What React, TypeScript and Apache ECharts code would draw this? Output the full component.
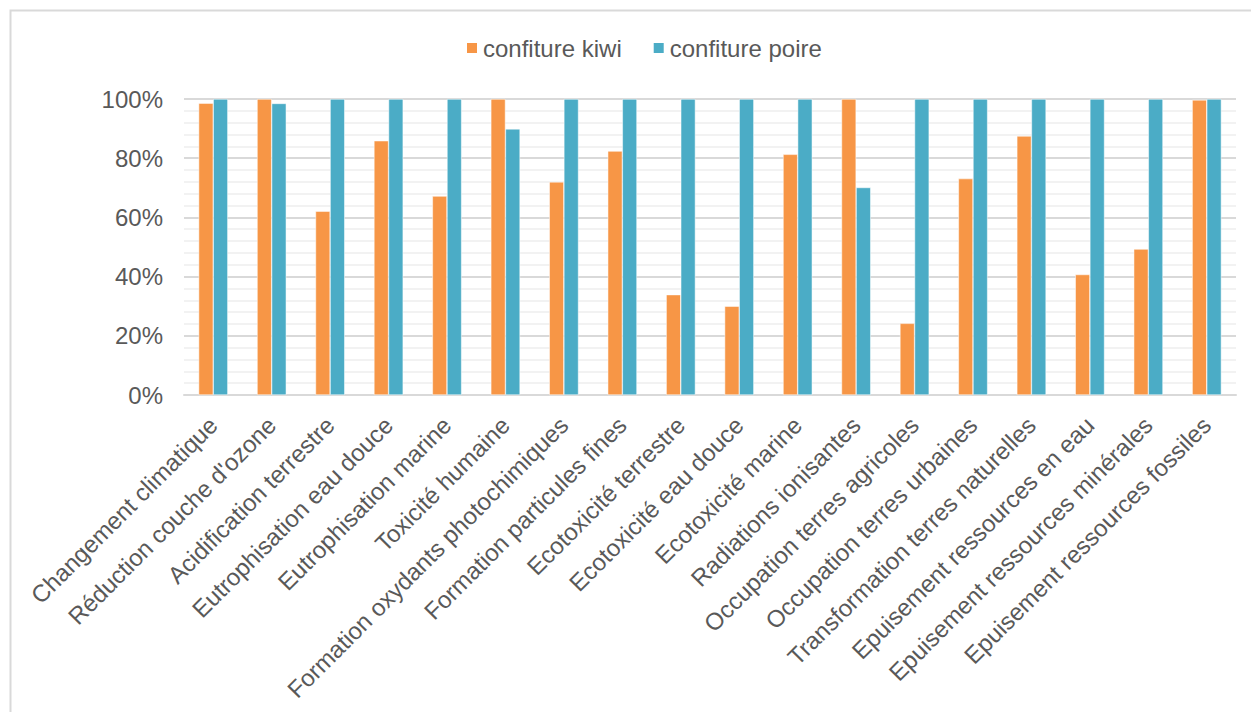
import React, { useEffect, useRef } from "react";
import * as echarts from "echarts";

const categories = [
  "Changement climatique",
  "Réduction couche d'ozone",
  "Acidification terrestre",
  "Eutrophisation eau douce",
  "Eutrophisation marine",
  "Toxicité humaine",
  "Formation oxydants photochimiques",
  "Formation particules fines",
  "Ecotoxicité terrestre",
  "Ecotoxicité eau douce",
  "Ecotoxicité marine",
  "Radiations ionisantes",
  "Occupation terres agricoles",
  "Occupation terres urbaines",
  "Transformation terres naturelles",
  "Epuisement ressources en eau",
  "Epuisement ressources minérales",
  "Epuisement ressources fossiles",
];

const kiwi = [98.6, 100, 62.1, 85.9, 67.2, 100, 72.0, 82.4, 33.9, 30.0, 81.3, 100, 24.2, 73.1, 87.5, 40.7, 49.3, 99.7];
const poire = [100, 98.5, 100, 100, 100, 89.9, 100, 100, 100, 100, 100, 70.1, 100, 100, 100, 100, 100, 100];

const seriesNames = ["confiture kiwi", "confiture poire"];
const colors = ["#F79646", "#4BACC6"];

export default function App() {
  const ref = useRef<HTMLDivElement>(null);
  useEffect(() => {
    if (!ref.current) return;
    const chart = echarts.init(ref.current, null, { renderer: "svg" });
    const font = "'Liberation Sans', Arial, sans-serif";
    chart.setOption({
      animation: false,
      backgroundColor: "#ffffff",
      textStyle: { fontFamily: font },
      graphic: [
        {
          type: "rect",
          shape: { x: 10.5, y: 10.5, width: 1300, height: 800 },
          style: { fill: "none", stroke: "#d9d9d9", lineWidth: 2 },
          silent: true,
        },
      ],
      legend: {
        top: 31,
        left: 460,
        itemWidth: 12,
        itemHeight: 12,
        itemGap: 30,
        icon: "rect",
        textStyle: { color: "#595959", fontSize: 24, fontFamily: font },
        data: seriesNames,
      },
      grid: { left: 184, right: 15, top: 99, bottom: 317, containLabel: false },
      xAxis: {
        type: "category",
        data: categories,
        axisLine: { lineStyle: { color: "#d9d9d9", width: 2 } },
        axisTick: { show: false },
        axisLabel: {
          interval: 0,
          rotate: 45,
          margin: 26,
          color: "#595959",
          fontSize: 24,
          fontFamily: font,
        },
      },
      yAxis: {
        type: "value",
        min: 0,
        max: 100,
        interval: 20,
        axisLine: { show: false },
        axisTick: { show: false },
        axisLabel: {
          margin: 21,
          color: "#595959",
          fontSize: 24,
          fontFamily: font,
          formatter: (v: number) => `${v}%`,
        },
        splitLine: { lineStyle: { color: "#d9d9d9", width: 2 } },
        minorTick: { show: false, splitNumber: 5 },
        minorSplitLine: { show: true, lineStyle: { color: "#f2f2f2", width: 2 } },
      },
      series: [
        {
          name: seriesNames[0],
          type: "bar",
          data: kiwi,
          barWidth: "25%",
          barGap: "0%",
          itemStyle: { color: colors[0], borderColor: "#ffffff", borderWidth: 0.5 },
        },
        {
          name: seriesNames[1],
          type: "bar",
          data: poire,
          barWidth: "25%",
          barGap: "0%",
          itemStyle: { color: colors[1], borderColor: "#ffffff", borderWidth: 0.5 },
        },
      ],
    });
    return () => chart.dispose();
  }, []);
  return (
    <div
      ref={ref}
      style={{ position: "absolute", left: 0, top: 0, width: 1251, height: 712 }}
    />
  );
}
